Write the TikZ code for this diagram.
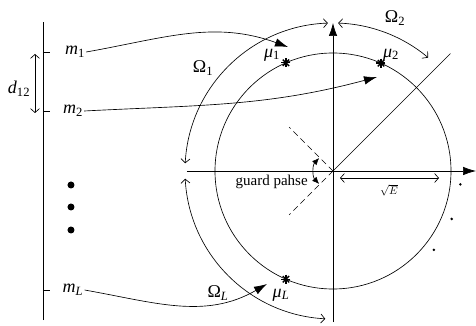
\documentclass[tikz,border=0pt]{standalone}
\usepackage{fontspec}
\setmainfont{Liberation Serif}
\usetikzlibrary{positioning, arrows.meta}

\newcommand{\symb}[2]{\textit{#1}\textsubscript{#2}}

\begin{document}
\begin{tikzpicture}[x=1pt, y=1pt, line width=0.65pt,
    lbl/.style={inner sep=1pt, font=\fontsize{18}{21}\selectfont},
    barb/.style={{Straight Barb[length=4pt,width=9pt]}-{Straight Barb[length=4pt,width=9pt]}},
    solid arrow/.style={-{Latex[length=13pt,width=8.5pt]}},
    small arrows/.style={{Latex[length=7pt,width=6pt]}-{Latex[length=7pt,width=6pt]}},
    phase line/.style={dash pattern=on 6pt off 4pt}]
    \useasboundingbox (-333,-155) rectangle (143,171);

    % axes, circle and phase lines
    \coordinate (O) at (0,0);
    \coordinate (ybot) at (0,-151);
    \coordinate (ytop) at (0,148);
    \coordinate (xleft) at (-146,0);
    \coordinate (xright) at (143,0);
    \draw[solid arrow] (ybot) -- (ytop);
    \draw[solid arrow] (xleft) -- (xright);
    \draw (O) circle (118);
    \draw (O) -- (45:166);
    \draw[phase line] (O) -- (135:62);
    \draw[phase line] (O) -- (225:62);

    % symbol points on the circle
    \coordinate (mu1) at (113.5:118);
    \coordinate (mu2) at (66:118);
    \coordinate (muL) at (246.5:118);
    \foreach \p in {mu1, mu2, muL}
        \foreach \b in {0,45,90,135}
            \draw[line width=1.4pt] (\p) ++(\b:4.5) -- ++(\b+180:9);
    \node[lbl] (mu1lbl) at (-61,116) {\symb{μ}{1}};
    \node[lbl] (mu2lbl) at (58,116) {\symb{μ}{2}};
    \node[lbl] (muLlbl) at (-52,-124) {\symb{μ}{\textit{L}}};

    % decision regions
    \draw[barb] (92:148) arc (92:177:148);
    \draw[barb] (88:148) arc (88:50:148);
    \draw[barb] (183:148) arc (183:267:148);
    \node[lbl] (om1) at (-130,103) {Ω\textsubscript{1}};
    \node[lbl] (om2) at (62,153) {Ω\textsubscript{2}};
    \node[lbl] (omL) at (-115,-122) {Ω\textsubscript{\textit{L}}};

    % guard phase
    \draw[small arrows] (137:19) arc (137:223:19);
    \node[inner sep=1pt, anchor=east, font=\fontsize{15}{18}\selectfont] (guard) at (-24,-11) {guard pahse};

    % radius
    \coordinate (e1) at (7,-7);
    \coordinate (e2) at (106,-7);
    \draw[barb] (e1) -- (e2);
    \node[inner sep=1pt, font=\fontsize{11}{13}\selectfont] (sqrtE) at (56,-19) {$\sqrt{E}$};
    \foreach \a in {-6,-22,-38}
        \fill (\a:128) circle (1.4);

    % symbol axis
    \coordinate (lbot) at (-290,-149);
    \coordinate (ltop) at (-290,149);
    \draw (lbot) -- (ltop);
    \foreach \y in {119, 60, -119}
        \draw (-290,\y) -- (-283,\y);
    \node[lbl] (m1) at (-258,119) {\symb{m}{1}};
    \node[lbl] (m2) at (-260,60) {\symb{m}{2}};
    \node[lbl] (mL) at (-260,-119) {\symb{m}{\textit{L}}};
    \foreach \y in {-14,-36,-59}
        \fill (-262,\y) circle (3.5);
    \coordinate (d1) at (-298,117);
    \coordinate (d2) at (-298,58);
    \draw[barb] (d1) -- (d2);
    \node[lbl] (d12) at (-314,82) {\symb{d}{12}};

    % mapping
    \coordinate (mu1tip) at (-45,124);
    \coordinate (mu2tip) at (44,94);
    \coordinate (muLtip) at (-66,-113);
    \draw[solid arrow] (m1.east) to[out=10, in=160] (mu1tip);
    \draw[solid arrow] (m2.east) to[out=3, in=195] (mu2tip);
    \draw[solid arrow] (mL.east) to[out=-10, in=210] (muLtip);
\end{tikzpicture}
\end{document}
